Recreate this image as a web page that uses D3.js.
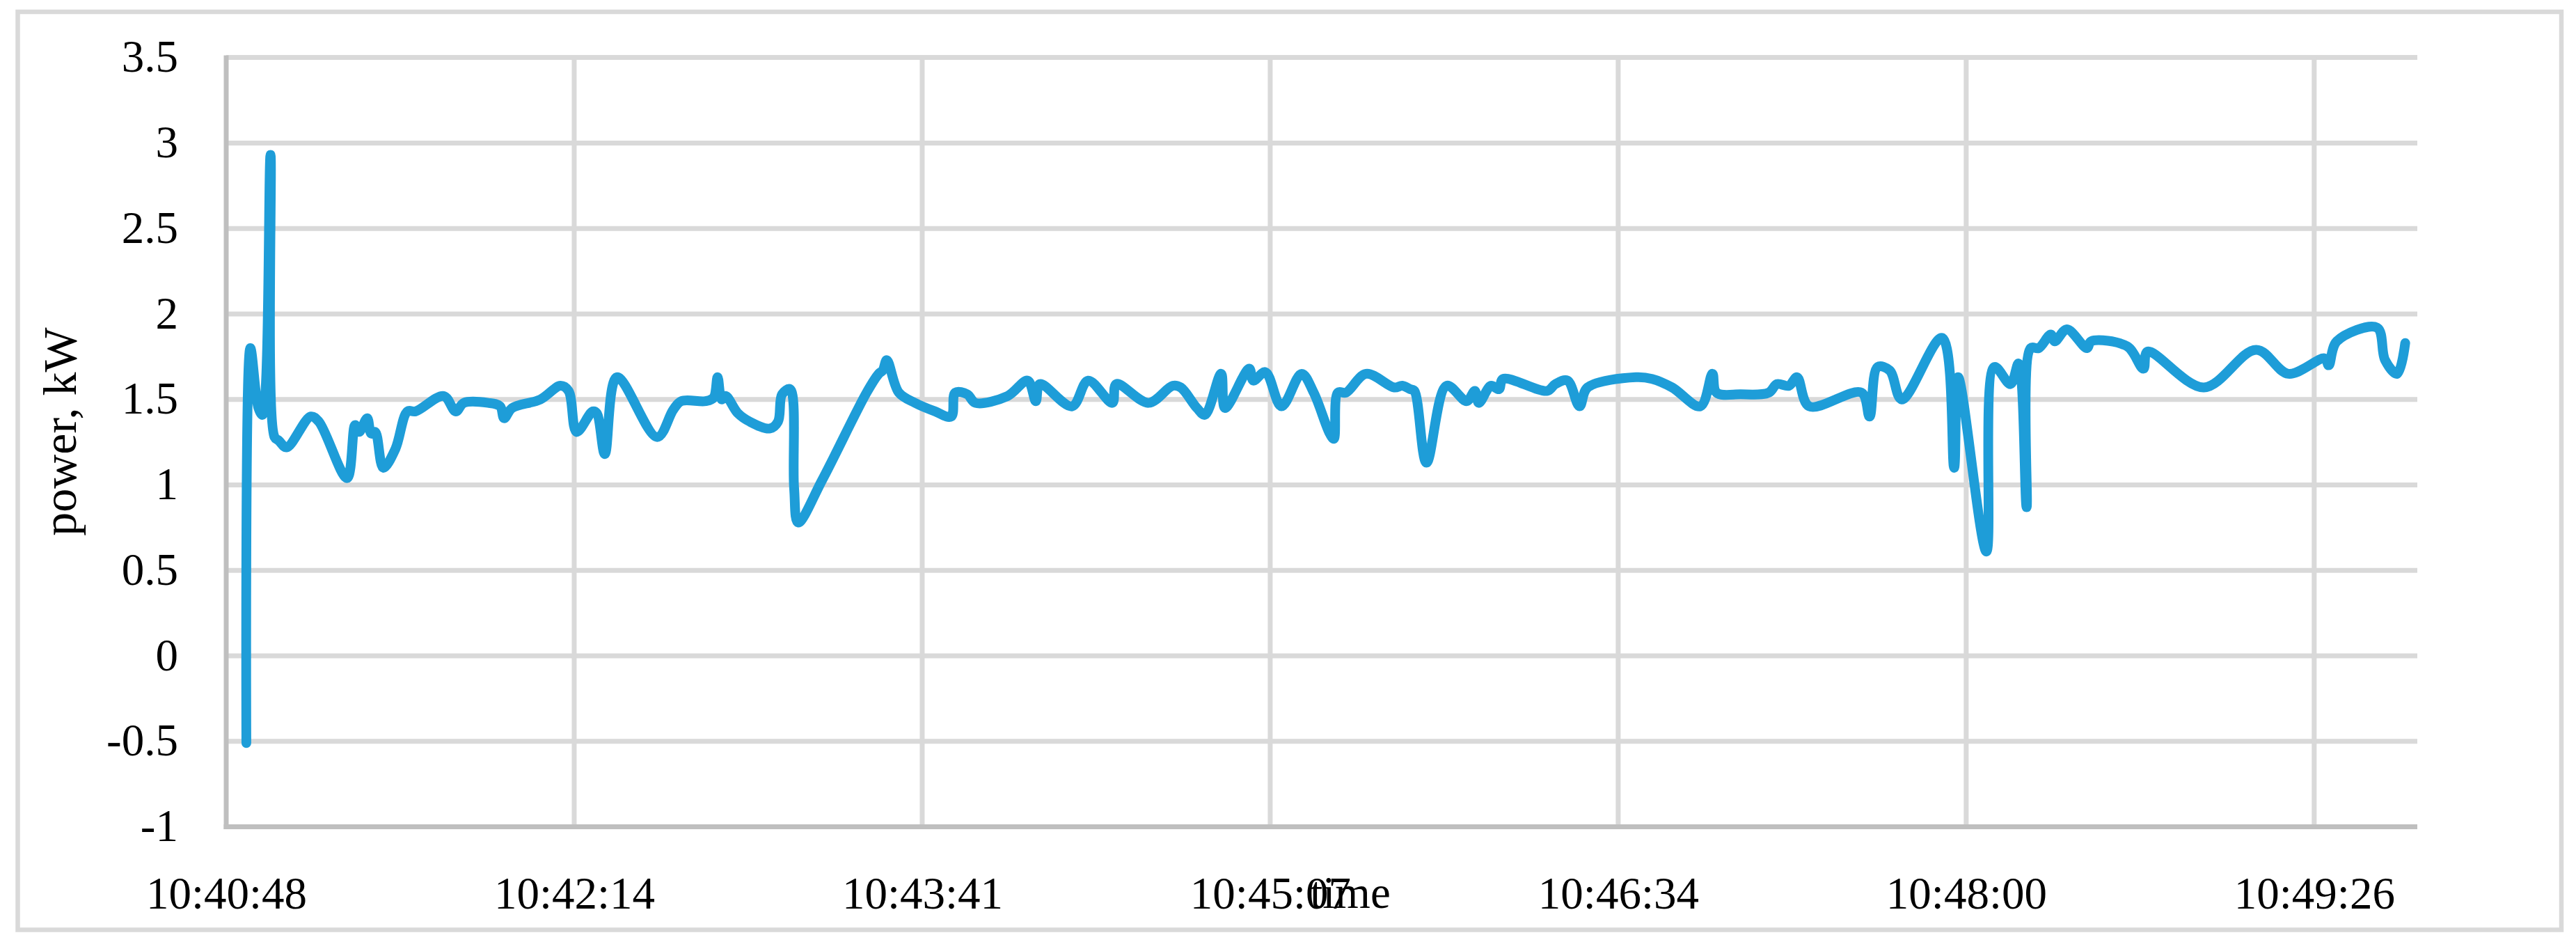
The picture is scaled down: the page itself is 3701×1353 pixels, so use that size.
<!DOCTYPE html>
<html>
<head>
<meta charset="utf-8">
<script src="https://cdn.jsdelivr.net/npm/d3@7"></script>
<style>
  html, body { margin: 0; padding: 0; background: #fff; }
  svg { display: block; }
  text { font-family: "Palatino Linotype", "Book Antiqua", Palatino, "Liberation Serif", serif; fill: #000; }
</style>
</head>
<body>
<svg id="chart"></svg>
<script>
// power readings (time of day, kW)
const times = [
  "10:40:53","10:40:54","10:40:56","10:40:57","10:40:59","10:41:00","10:41:01","10:41:03","10:41:09","10:41:11","10:41:18",
  "10:41:20","10:41:21","10:41:23","10:41:24","10:41:25","10:41:27","10:41:30","10:41:33","10:41:35","10:41:42",
  "10:41:45","10:41:47","10:41:53","10:41:56","10:41:57","10:41:59","10:42:06","10:42:11","10:42:13","10:42:15",
  "10:42:19","10:42:20","10:42:22","10:42:25","10:42:35","10:42:39","10:42:41","10:42:47","10:42:49","10:42:50",
  "10:42:51","10:42:52","10:42:55","10:42:58","10:43:03","10:43:05","10:43:06","10:43:08","10:43:09","10:43:10",
  "10:43:16","10:43:27","10:43:30","10:43:31","10:43:32","10:43:35","10:43:39","10:43:44","10:43:48","10:43:49",
  "10:43:52","10:43:54","10:44:02","10:44:07","10:44:09","10:44:10","10:44:18","10:44:22","10:44:28","10:44:29",
  "10:44:37","10:44:43","10:44:45","10:44:49","10:44:51","10:44:55","10:44:56","10:45:02","10:45:03","10:45:06",
  "10:45:10","10:45:15","10:45:18","10:45:22","10:45:23","10:45:24","10:45:26","10:45:31","10:45:38","10:45:40",
  "10:45:42","10:45:43","10:45:46","10:45:51","10:45:56","10:45:58","10:45:59","10:46:02","10:46:04","10:46:05",
  "10:46:16","10:46:18","10:46:21","10:46:24","10:46:26","10:46:38","10:46:42","10:46:47","10:46:54","10:46:57",
  "10:46:58","10:47:04","10:47:11","10:47:13","10:47:16","10:47:18","10:47:21","10:47:34","10:47:36","10:47:38",
  "10:47:41","10:47:44","10:47:54","10:47:57","10:47:58","10:48:05","10:48:07","10:48:11","10:48:13","10:48:15",
  "10:48:16","10:48:18","10:48:21","10:48:22","10:48:25","10:48:30","10:48:31","10:48:40","10:48:44","10:48:45",
  "10:48:59","10:49:12","10:49:20","10:49:29","10:49:30","10:49:32","10:49:42","10:49:44","10:49:47","10:49:49"
];
const power = [
  -0.51, 1.80, 1.45, 1.41, 2.93, 1.28, 1.26, 1.22, 1.40, 1.37, 1.04,
   1.35, 1.31, 1.39, 1.30, 1.31, 1.10, 1.21, 1.43, 1.43, 1.52,
   1.43, 1.48, 1.48, 1.46, 1.39, 1.45, 1.50, 1.58, 1.55, 1.31,
   1.43, 1.42, 1.18, 1.63, 1.28, 1.44, 1.49, 1.49, 1.51, 1.63,
   1.50, 1.52, 1.42, 1.37, 1.33, 1.37, 1.53, 1.56, 0.98, 0.78,
   1.03, 1.54, 1.65, 1.67, 1.73, 1.54, 1.48, 1.43, 1.40, 1.54,
   1.53, 1.48, 1.52, 1.61, 1.49, 1.59, 1.46, 1.61, 1.48, 1.59,
   1.48, 1.58, 1.57, 1.45, 1.41, 1.65, 1.45, 1.68, 1.61, 1.66,
   1.46, 1.65, 1.54, 1.30, 1.27, 1.54, 1.54, 1.65, 1.57, 1.58,
   1.56, 1.55, 1.13, 1.58, 1.49, 1.55, 1.48, 1.58, 1.56, 1.62,
   1.55, 1.59, 1.61, 1.46, 1.57, 1.63, 1.62, 1.57, 1.46, 1.65,
   1.54, 1.53, 1.54, 1.59, 1.58, 1.63, 1.46, 1.54, 1.40, 1.69,
   1.67, 1.50, 1.86, 1.10, 1.63, 0.61, 1.69, 1.59, 1.71, 0.87,
   1.80, 1.80, 1.88, 1.84, 1.91, 1.80, 1.84, 1.81, 1.68, 1.78,
   1.57, 1.79, 1.65, 1.74, 1.70, 1.84, 1.92, 1.73, 1.65, 1.83
];

const yTicks = [-1, -0.5, 0, 0.5, 1, 1.5, 2, 2.5, 3, 3.5];
const yTickLabels = ["-1", "-0.5", "0", "0.5", "1", "1.5", "2", "2.5", "3", "3.5"];
const xTickLabels = ["10:40:48", "10:42:14", "10:43:41", "10:45:07", "10:46:34", "10:48:00", "10:49:26"];
const xStart = "10:40:48";
const xEnd = "10:49:52";
const xStepSec = 86.4; // major unit 0.001 day

const W = 3701, H = 1353;
const plot = { left: 325, right: 3473, top: 82.6, bottom: 1187.6 };

const parse = d3.timeParse("%H:%M:%S");
const data = times.map((t, i) => ({ t: parse(t), v: power[i] }));
const t0 = parse(xStart);
const xTickTimes = xTickLabels.map((d, i) => new Date(t0.getTime() + i * xStepSec * 1000));

const x = d3.scaleTime().domain([t0, parse(xEnd)]).range([plot.left, plot.right]);
const y = d3.scaleLinear().domain([-1, 3.5]).range([plot.bottom, plot.top]);

const svg = d3.select("#chart").attr("width", W).attr("height", H);
svg.append("rect").attr("width", W).attr("height", H).attr("fill", "#fff");

// chart area border
svg.append("rect")
  .attr("x", 25.5).attr("y", 17)
  .attr("width", 3654.5).attr("height", 1318.5)
  .attr("fill", "none").attr("stroke", "#d9d9d9").attr("stroke-width", 6.5);

// gridlines
svg.append("g").selectAll("line").data(yTicks.filter(d => d !== -1)).enter().append("line")
  .attr("x1", plot.left).attr("x2", plot.right)
  .attr("y1", d => y(d)).attr("y2", d => y(d))
  .attr("stroke", "#d9d9d9").attr("stroke-width", 7);

svg.append("g").selectAll("line").data(xTickTimes.slice(1)).enter().append("line")
  .attr("x1", d => x(d)).attr("x2", d => x(d))
  .attr("y1", plot.top).attr("y2", plot.bottom)
  .attr("stroke", "#d9d9d9").attr("stroke-width", 7);

// axis lines
svg.append("line")
  .attr("x1", plot.left).attr("x2", plot.left)
  .attr("y1", plot.top - 3).attr("y2", plot.bottom + 3.5)
  .attr("stroke", "#bfbfbf").attr("stroke-width", 7);
svg.append("line")
  .attr("x1", plot.left - 3.5).attr("x2", plot.right)
  .attr("y1", plot.bottom).attr("y2", plot.bottom)
  .attr("stroke", "#bfbfbf").attr("stroke-width", 7);

// tick labels
const yAxis = d3.axisLeft(y).tickValues(yTicks).tickSize(0).tickPadding(69)
  .tickFormat((d, i) => yTickLabels[i]);
const gy = svg.append("g").attr("transform", `translate(${plot.left},0)`).call(yAxis);
gy.select(".domain").remove();
gy.selectAll("text").attr("font-size", 65).attr("dy", "0.31em");

const xAxis = d3.axisBottom(x).tickValues(xTickTimes).tickSize(0).tickPadding(71)
  .tickFormat((d, i) => xTickLabels[i]);
const gx = svg.append("g").attr("transform", `translate(0,${plot.bottom})`).call(xAxis);
gx.select(".domain").remove();
gx.selectAll("text").attr("font-size", 65);
svg.selectAll("g").attr("font-family", null);
svg.selectAll(".tick text").attr("fill", "#000");

// axis titles
svg.append("text")
  .attr("transform", `translate(109,${(plot.top + plot.bottom) / 2 - 15}) rotate(-90)`)
  .attr("text-anchor", "middle").attr("font-size", 68)
  .text("power, kW");
svg.append("text")
  .attr("x", 1940).attr("y", 1304)
  .attr("text-anchor", "middle").attr("font-size", 65)
  .text("time");

// power line
const line = d3.line().x(d => x(d.t)).y(d => y(d.v)).curve(d3.curveCatmullRom);
svg.append("path").datum(data)
  .attr("d", line)
  .attr("fill", "none")
  .attr("stroke", "#1e9dd8")
  .attr("stroke-width", 14)
  .attr("stroke-linejoin", "round")
  .attr("stroke-linecap", "round");
</script>
</body>
</html>
